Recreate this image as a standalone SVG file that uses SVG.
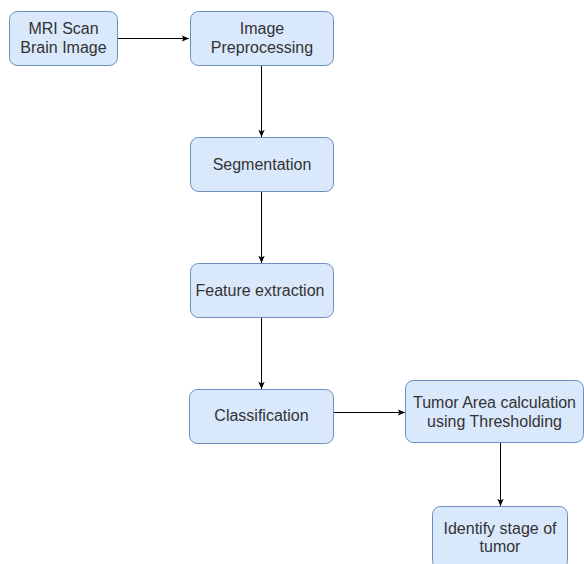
<svg xmlns="http://www.w3.org/2000/svg" width="584" height="564" viewBox="0 0 584 564">
<defs>
<style>
.box{fill:#dae8fc;stroke:#6c8ebf;stroke-width:1}
.t{font-family:"Liberation Sans",Arial,sans-serif;font-size:16px;fill:#333333;text-anchor:middle}
.c{stroke:#000;stroke-width:1;fill:none}
</style>
<marker id="ah" viewBox="0 0 10 10" refX="9" refY="5" markerWidth="8" markerHeight="8" markerUnits="userSpaceOnUse" orient="auto">
<path d="M0,1 L9,5 L0,9 L2,5 Z" fill="#000"/>
</marker>
</defs>
<rect width="584" height="564" fill="#fff"/>
<g id="connectors">
<line class="c" x1="117.5" y1="38.5" x2="189" y2="38.5" marker-end="url(#ah)"/>
<line class="c" x1="261.5" y1="65.5" x2="261.5" y2="137" marker-end="url(#ah)"/>
<line class="c" x1="261.5" y1="191.5" x2="261.5" y2="263" marker-end="url(#ah)"/>
<line class="c" x1="261.5" y1="317.5" x2="261.5" y2="389" marker-end="url(#ah)"/>
<line class="c" x1="333.5" y1="412.5" x2="405" y2="412.5" marker-end="url(#ah)"/>
<line class="c" x1="500.5" y1="443" x2="500.5" y2="506" marker-end="url(#ah)"/>
</g>
<g id="mri">
<rect class="box" x="9.5" y="11.5" width="108" height="54" rx="8"/>
<text class="t" x="63.5" y="34">MRI Scan</text>
<text class="t" x="63.5" y="52.5">Brain Image</text>
</g>
<g id="preprocessing">
<rect class="box" x="190.5" y="11.5" width="143" height="54" rx="8"/>
<text class="t" x="262" y="34">Image</text>
<text class="t" x="262" y="52.5">Preprocessing</text>
</g>
<g id="segmentation">
<rect class="box" x="190.5" y="137.5" width="143" height="54" rx="8"/>
<text class="t" x="262" y="169.5">Segmentation</text>
</g>
<g id="feature">
<rect class="box" x="190.5" y="263.5" width="143" height="54" rx="8"/>
<text class="t" x="260" y="295.5">Feature extraction</text>
</g>
<g id="classification">
<rect class="box" x="189.5" y="389.5" width="144" height="54" rx="8"/>
<text class="t" x="261.5" y="421">Classification</text>
</g>
<g id="tumor-area">
<rect class="box" x="405.5" y="380.5" width="178" height="62" rx="8"/>
<text class="t" x="494.5" y="407.5">Tumor Area calculation</text>
<text class="t" x="494.5" y="426.5">using Thresholding</text>
</g>
<g id="identify">
<rect class="box" x="432.5" y="506.5" width="135" height="62" rx="8"/>
<text class="t" x="500" y="533.5">Identify stage of</text>
<text class="t" x="500" y="551.5">tumor</text>
</g>
</svg>
